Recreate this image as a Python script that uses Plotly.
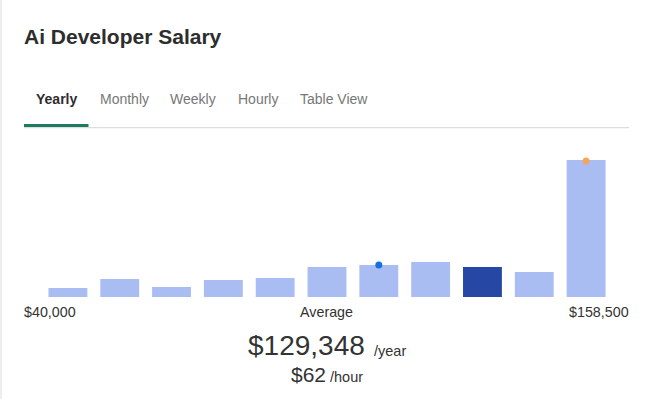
import plotly.graph_objects as go

# Data (relative bar heights)
bins = list(range(11))
counts = [9, 18, 10, 17, 19, 30, 32, 35, 30, 25, 137]
highlight_index = 8
axis_labels = ["$40,000", "Average", "$158,500"]
title_text = "Ai Developer Salary"
tabs = ["Yearly", "Monthly", "Weekly", "Hourly", "Table View"]
avg_year = "$129,348"
avg_hour = "$62"
dot_blue = (6, 32)
dot_orange = (10, 136)

W, Hh = 650, 399
L, R, T, B = 42, 38, 147, 102
PW = W - L - R
PH = Hh - T - B


def px(x):
    return (x - L) / PW


def py(y):
    return (Hh - B - y) / PH


light = "#a9bdf3"
dark = "#2648a4"
colors = [dark if i == highlight_index else light for i in bins]

fig = go.Figure()
fig.add_trace(go.Bar(x=bins, y=counts, marker=dict(color=colors, line=dict(width=0)),
                     hoverinfo="skip"))
fig.add_trace(go.Scatter(x=[dot_blue[0]], y=[dot_blue[1]], mode="markers",
                         marker=dict(color="#1570e0", size=7), hoverinfo="skip"))
fig.add_trace(go.Scatter(x=[dot_orange[0]], y=[dot_orange[1]], mode="markers",
                         marker=dict(color="#f7a55c", size=7), hoverinfo="skip"))

font = "Liberation Sans, Arial, sans-serif"
ann = []
ann.append(dict(text=f"<b>{title_text}</b>", x=px(22), y=py(36.5), xanchor="left", yanchor="middle",
                font=dict(size=21, color="#2d2d2d", family=font)))
tab_x = [34, 97.5, 168, 235.5, 297.5]
for i, (t, tx) in enumerate(zip(tabs, tab_x)):
    ann.append(dict(text=(f"<b>{t}</b>" if i == 0 else t), x=px(tx), y=py(98.5),
                    xanchor="left", yanchor="middle",
                    font=dict(size=14, color="#2d2d2d" if i == 0 else "#777777", family=font)))
ann.append(dict(text=axis_labels[0], x=px(22), y=py(312), xanchor="left", yanchor="middle",
                font=dict(size=14.3, color="#333333", family=font)))
ann.append(dict(text=axis_labels[1], x=px(326.5), y=py(312), xanchor="center", yanchor="middle",
                font=dict(size=14.3, color="#333333", family=font)))
ann.append(dict(text=axis_labels[2], x=px(630.5), y=py(312), xanchor="right", yanchor="middle",
                font=dict(size=14.3, color="#333333", family=font)))
ann.append(dict(text=avg_year, x=px(367), y=py(345.5), xanchor="right", yanchor="middle",
                font=dict(size=28, color="#333333", family=font)))
ann.append(dict(text="/year", x=px(372), y=py(350.5), xanchor="left", yanchor="middle",
                font=dict(size=14.5, color="#333333", family=font)))
ann.append(dict(text=avg_hour, x=px(328), y=py(374.5), xanchor="right", yanchor="middle",
                font=dict(size=21, color="#333333", family=font)))
ann.append(dict(text="/hour", x=px(327.5), y=py(377), xanchor="left", yanchor="middle",
                font=dict(size=14.5, color="#333333", family=font)))
for a in ann:
    a.update(xref="paper", yref="paper", showarrow=False)

shapes = [
    dict(type="rect", xref="paper", yref="paper", x0=px(24), x1=px(629), y0=py(127), y1=py(128.2),
         fillcolor="#dddddd", line=dict(width=0)),
    dict(type="rect", xref="paper", yref="paper", x0=px(24), x1=px(88.5), y0=py(124), y1=py(127),
         fillcolor="#1f7a5e", line=dict(width=0)),
    dict(type="rect", xref="paper", yref="paper", x0=px(0), x1=px(2), y0=py(0), y1=py(399),
         fillcolor="#eeeeee", line=dict(width=0)),
]

fig.update_layout(
    width=W, height=Hh,
    margin=dict(l=L, r=R, t=T, b=B, pad=0),
    paper_bgcolor="white", plot_bgcolor="white",
    showlegend=False, bargap=0.25,
    xaxis=dict(range=[-0.5, 10.5], visible=False, fixedrange=True),
    yaxis=dict(range=[0, PH], visible=False, fixedrange=True),
    annotations=ann, shapes=shapes,
)
fig.write_html("out.html", config={"displayModeBar": False})
